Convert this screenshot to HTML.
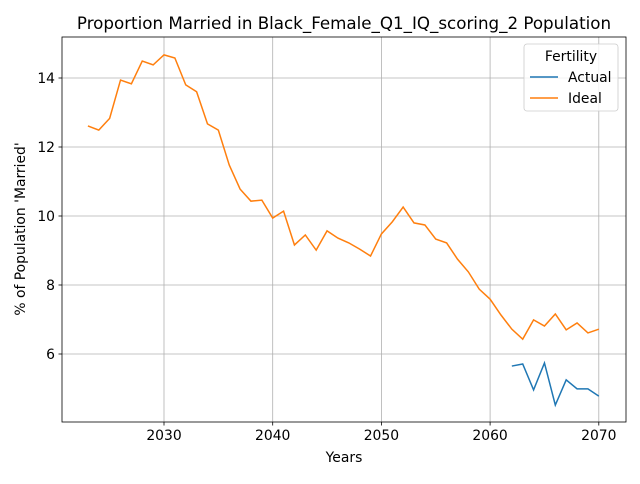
<!DOCTYPE html>
<html><head><meta charset="utf-8"><style>
body{margin:0;background:#fff;font-family:"DejaVu Sans","Liberation Sans",sans-serif;}
svg text{font-family:"DejaVu Sans","Liberation Sans",sans-serif;}
</style></head><body>
<svg id="chart" width="640" height="480"></svg>
<script>
const years=[];for(let y=2023;y<=2070;y++)years.push(y);
const ideal=[12.61,12.49,12.83,13.94,13.83,14.49,14.38,14.67,14.58,13.8,13.6,12.67,12.49,11.48,10.78,10.43,10.46,9.94,10.14,9.16,9.45,9.01,9.57,9.36,9.22,9.04,8.84,9.48,9.83,10.26,9.80,9.74,9.33,9.22,8.75,8.38,7.88,7.59,7.13,6.72,6.43,6.99,6.81,7.16,6.70,6.90,6.61,6.72];
const actualYears=[2062,2063,2064,2065,2066,2067,2068,2069,2070];
const actual=[5.65,5.71,4.96,5.74,4.52,5.25,4.99,4.99,4.78];
const xTicks=[2030,2040,2050,2060,2070];
const yTicks=[6,8,10,12,14];
const L=62,R=626,T=37,B=422;
const xs=y=>164+(y-2030)*10.87;
const ys=v=>354-(v-6)*34.5;
const svg=document.getElementById('chart');
const NS='http://www.w3.org/2000/svg';
function mk(tag,attrs,parent){const e=document.createElementNS(NS,tag);for(const k in attrs)e.setAttribute(k,attrs[k]);(parent||svg).appendChild(e);return e;}
function txt(s,attrs){const e=mk('text',attrs);e.textContent=s;return e;}
xTicks.forEach(t=>{const x=xs(t);
 const g=mk('line',{x1:x,x2:x,y1:T,y2:B,stroke:'#b0b0b0','stroke-width':0.8});
 
 
 mk('line',{x1:x,x2:x,y1:B,y2:B+3.5,stroke:'#000','stroke-width':0.8});
 const l=txt(t,{x:x,y:B+18,'text-anchor':'middle','font-size':13.9});
 
 
});
yTicks.forEach(t=>{const y=ys(t);
 const g=mk('line',{x1:L,x2:R,y1:y,y2:y,stroke:'#b0b0b0','stroke-width':0.8});
 
 
 mk('line',{x1:L-3.5,x2:L,y1:y,y2:y,stroke:'#000','stroke-width':0.8});
 const l=txt(t,{x:L-7,y:y+5,'text-anchor':'end','font-size':13.9});
 
 
});
function line(xv,yv,color,name){
 const p=mk('polyline',{points:xv.map((x,i)=>xs(x)+','+ys(yv[i])).join(' '),fill:'none',stroke:color,'stroke-width':1.5});
 
 
}
line(years,ideal,'#ff7f0e','ideal-line');
line(actualYears,actual,'#1f77b4','actual-line');
const fr=mk('rect',{x:L,y:T,width:R-L,height:B-T,fill:'none',stroke:'#000','stroke-width':0.8});


const ti=txt("Proportion Married in Black_Female_Q1_IQ_scoring_2 Population",{x:344,y:29,'text-anchor':'middle','font-size':16.7});


const xt=txt('Years',{x:344,y:462,'text-anchor':'middle','font-size':13.9});


const yt=txt("% of Population 'Married'",{x:0,y:0,'text-anchor':'middle','font-size':13.9,transform:'translate(25,229) rotate(-90)'});


const lg=mk('rect',{x:524,y:44,width:94,height:67,rx:3,fill:'#fff','fill-opacity':0.8,stroke:'#ccc','stroke-width':0.8});


const lt=txt('Fertility',{x:571,y:61,'text-anchor':'middle','font-size':13.9});


[['Actual','#1f77b4',77],['Ideal','#ff7f0e',98]].forEach(([n,c,y])=>{
 mk('line',{x1:530,x2:558,y1:y,y2:y,stroke:c,'stroke-width':1.5});
 const e=txt(n,{x:568,y:y+5,'font-size':13.9});
 
 
});
</script>
</body></html>
